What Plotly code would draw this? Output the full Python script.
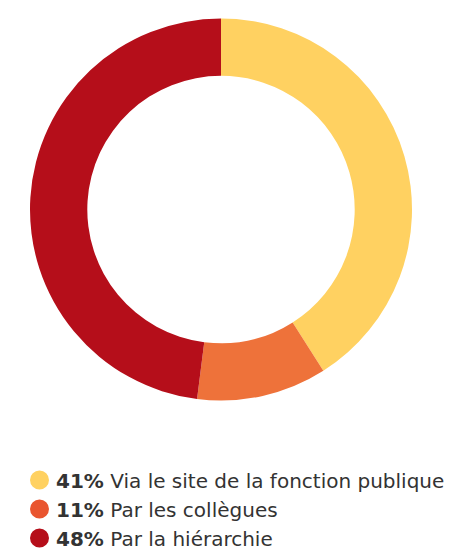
import plotly.graph_objects as go

labels = ["Via le site de la fonction publique", "Par les collègues", "Par la hiérarchie"]
values = [41, 11, 48]
colors = ["#FFD161", "#EE723A", "#B50E1A"]
dot_colors = ["#FFD161", "#E9552F", "#B50E1A"]

OFF = 8  # default page body margin
W, H = 465 - OFF, 551 - OFF

def px(x):
    return (x - OFF) / W

def py(y):
    return 1 - (y - OFF) / H

fig = go.Figure(go.Pie(
    labels=labels, values=values, hole=0.70, sort=False,
    direction="clockwise", rotation=0,
    marker=dict(colors=colors, line=dict(width=0)),
    textinfo="none", hoverinfo="label+percent", showlegend=False,
    domain=dict(x=[px(30), px(412)], y=[py(401), py(18)]),
))

shapes = []
annotations = []
for i, (lab, v, c) in enumerate(zip(labels, values, dot_colors)):
    cy = 480 + i * 29
    r = 9.5
    shapes.append(dict(type="circle", xref="paper", yref="paper",
                       x0=px(39.5 - r), x1=px(39.5 + r), y0=py(cy + r), y1=py(cy - r),
                       fillcolor=c, line=dict(width=0)))
    annotations.append(dict(xref="paper", yref="paper", x=px(53.5), y=py(cy + 1),
                            xanchor="left", yanchor="middle", showarrow=False,
                            text=f"<b>{v}%</b> {lab}",
                            font=dict(family="DejaVu Sans", size=20, color="#333333")))

fig.update_layout(width=W, height=H, margin=dict(l=0, r=0, t=0, b=0),
                  paper_bgcolor="white", plot_bgcolor="white",
                  shapes=shapes, annotations=annotations)
fig.write_html("out.html")
